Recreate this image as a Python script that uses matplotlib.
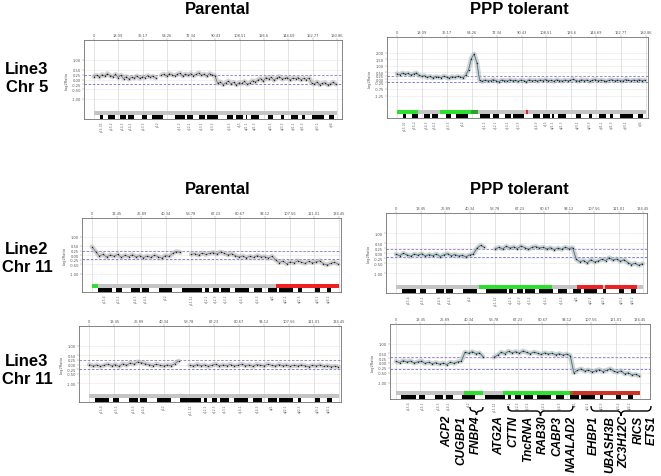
import matplotlib
matplotlib.use("Agg")
import matplotlib.pyplot as plt
from matplotlib.path import Path
from matplotlib.patches import PathPatch
import numpy as np

W, H = 661, 477

chr5_ticks = [0, 18.09, 36.17, 54.26, 72.34, 90.43, 108.51, 126.6, 144.69, 162.77, 180.86]
chr11_ticks = [0, 13.45, 26.89, 40.34, 53.78, 67.23, 80.67, 94.12, 107.56, 121.01, 134.45]

chr5_pos = np.arange(0, 181, 2)
chr11_pos = np.arange(0, 135, 2)

line3_chr5_parental = [
    0.15, 0.22, 0.12, 0.25, 0.18, 0.30,
    0.20, 0.14, 0.26, 0.10, 0.22,
    0.05, 0.15, 0.02, 0.12, 0.08,
    0.18, 0.06, 0.14, 0.10, 0.20,
    0.12, 0.16, 0.08, np.nan,
    0.22, 0.28, 0.18, 0.30, 0.24, 0.20,
    0.26, 0.32, 0.18, 0.28, 0.22,
    0.30, 0.20, 0.26, 0.34, 0.22,
    0.28, 0.18, 0.30, 0.24, 0.20,
    -0.20, -0.12, -0.26, -0.18, -0.08,
    -0.22, -0.14, -0.28, -0.16, -0.20,
    -0.10, -0.24, -0.18, -0.06, -0.14,
    -0.02, 0.05, -0.08, 0.10, 0.02,
    0.12, -0.04, 0.08, 0.15, 0.02,
    0.06, 0.10, -0.02, 0.08, 0.04,
    0.10, -0.02, 0.06, 0.00, 0.08,
    -0.18, -0.24, -0.12, -0.26, -0.20,
    -0.16, -0.28, -0.22, -0.14, -0.24,
]

line3_chr5_tolerant = [
    0.40, 0.32, 0.45, 0.36, 0.42, 0.30,
    0.38, 0.46, 0.28, 0.20, 0.25,
    0.12, 0.20, 0.08, 0.18, 0.15,
    0.10, 0.22, 0.14, 0.06, 0.18,
    0.12, 0.20, 0.16, 0.10,
    0.30, 0.70, 1.55, 1.90, 1.25,
    -0.10, -0.18, -0.08, -0.15, -0.12, -0.05,
    -0.14, -0.20, -0.08, -0.12, -0.16,
    -0.06, -0.14, -0.10, -0.18, -0.08,
    -0.12, -0.20, -0.06, -0.14, -0.10,
    -0.16, -0.08, -0.12, -0.04, -0.14,
    -0.10, -0.18, -0.06, -0.12, -0.16,
    -0.08, -0.14, -0.10, -0.02, -0.12,
    -0.16, -0.06, -0.12, -0.08, -0.18,
    -0.10, -0.04, -0.14, -0.08, -0.12,
    -0.18, -0.10, -0.06, -0.14, -0.08,
    -0.12, -0.16, -0.04, -0.10, -0.14,
    -0.08, -0.12, -0.06, -0.14, -0.10,
]

line2_chr11_parental = [
    0.45, 0.20, -0.05, 0.05, -0.10, 0.02,
    -0.06, 0.04, -0.12, 0.00, -0.08,
    0.03, -0.10, -0.02, -0.14, -0.04,
    -0.12, 0.00, -0.08, -0.16, -0.02,
    -0.06, 0.10, 0.20, 0.15, np.nan,
    np.nan, 0.05,
    0.08, 0.00, 0.12, 0.04, 0.10,
    0.14, 0.06, 0.18, 0.10, 0.02,
    0.08, -0.02, -0.10, -0.04, -0.14,
    -0.06, -0.12, -0.02, -0.10, -0.08,
    -0.16, -0.06, -0.25,
    -0.40, -0.32, -0.46, -0.36, -0.42,
    -0.30, -0.38, -0.44, -0.34, -0.40,
    -0.36, -0.30, -0.46, -0.52, -0.44,
    -0.38, -0.48,
]

line2_chr11_tolerant = [
    -0.05, -0.12, 0.00, -0.08, -0.15, -0.04,
    -0.10, -0.02, -0.14, -0.06, -0.12,
    -0.04, -0.16, -0.08, -0.02, -0.12,
    -0.06, -0.14, -0.10, -0.18, -0.08,
    -0.04, 0.25, 0.40, 0.30, np.nan,
    np.nan, 0.22,
    0.30, 0.22, 0.35, 0.26, 0.32,
    0.24, 0.36, 0.28, 0.20, 0.30,
    0.34, 0.26, 0.30, 0.22, 0.28,
    0.18, 0.26, 0.20, 0.30, 0.24,
    0.28, -0.30, -0.42,
    -0.36, -0.48, -0.32, -0.44, -0.38,
    -0.30, -0.36, -0.22, -0.34, -0.28,
    -0.40, -0.32, -0.46, -0.56, -0.50,
    -0.60, -0.52,
]

line3_chr11_parental = [
    0.00, -0.08, -0.02, -0.10, -0.04, 0.02,
    -0.06, 0.00, -0.10, 0.04, -0.04,
    0.08, 0.02, 0.14, 0.10, 0.04,
    0.00, -0.06, 0.02, -0.04, -0.08,
    -0.02, -0.06, 0.05, 0.18, np.nan,
    np.nan, -0.04,
    -0.08, 0.00, -0.06, -0.02, -0.10,
    -0.04, 0.02, -0.08, -0.02, -0.06,
    0.00, -0.08, -0.04, 0.02, -0.06,
    -0.02, -0.10, 0.00, -0.04, -0.08,
    0.02, -0.04, -0.08,
    0.00, -0.06, -0.02, -0.10, -0.04,
    -0.08, -0.02, -0.06, -0.12, -0.04,
    -0.08, -0.02, -0.10, -0.06, -0.12,
    -0.08, -0.14,
]

line3_chr11_tolerant = [
    0.08, 0.02, 0.12, 0.05, 0.10, 0.00,
    0.06, 0.10, -0.02, 0.04, -0.04,
    0.02, -0.06, 0.00, -0.08, 0.04,
    -0.02, 0.06, 0.10, 0.55, 0.50,
    0.58, 0.48, 0.52, 0.32, np.nan,
    np.nan, 0.30,
    0.40, 0.55, 0.48, 0.60, 0.52,
    0.58, 0.50, 0.62, 0.54, 0.48,
    0.56, 0.50, 0.44, 0.52, 0.46,
    0.50, 0.42, 0.48, 0.40, 0.46,
    0.38, -0.50, -0.38,
    -0.30, -0.42, -0.36, -0.46, -0.40,
    -0.34, -0.44, -0.38, -0.30, -0.42,
    -0.48, -0.40, -0.56, -0.50, -0.62,
    -0.58, -0.66,
]

# ideogram dark bands (Mb)
chr5_bands = [(4.5, 6.9), (10.7, 15.6), (19.4, 23.8), (25.5, 29.8), (35.5, 39.2),
              (43.2, 51.6), (60.3, 67.7), (69.5, 73.9), (78.4, 82.6), (83.9, 92.5),
              (98.8, 103.7), (105.7, 111.1), (112.9, 114.1), (116.6, 123.0),
              (129.7, 133.5), (139.2, 141.4), (146.4, 151.6), (154.6, 157.0),
              (162.0, 171.2), (174.9, 178.9)]
chr5_band_names = ["p15.32", "p15.2", "p14.3", "p14.1", "p13.3", "p12", "q11.2",
                   "q12.1", "q13.1", "q13.3", "q14.3", "q15", "q21.1", "q21.3",
                   "q23.1", "q23.3", "q31.1", "q31.3", "q33.1", "q34"]
chr11_bands = [(3.0, 10.8), (12.9, 16.1), (21.5, 26.0), (27.3, 31.2), (36.6, 43.8),
               (48.8, 60.1), (61.7, 63.5), (65.8, 68.9), (70.3, 75.3), (77.8, 85.5),
               (88.2, 92.7), (96.0, 100.8), (102.0, 109.5), (112.3, 114.1),
               (121.4, 124.1), (127.7, 130.4)]
chr11_band_names = ["p15.4", "p15.1", "p14.3", "p14.1", "p12", "p11.12", "q12.1",
                    "q12.3", "q13.2", "q14.1", "q14.3", "q21", "q22.1", "q22.3",
                    "q23.2", "q24.2"]

# gained (green) / lost (red) segments on the ideogram bar
GREEN = "#2ee02e"
RED = "#ee2222"
DRED = "#cc3322"
segs_p1 = []
segs_p2 = [(0, 15.3, GREEN), (31.2, 54.0, GREEN), (54.0, 58.8, "#22a822"), (93.5, 94.8, RED)]
segs_p3 = [(0, 3.0, GREEN), (100.0, 134.45, RED)]
segs_p4 = [(45.1, 85.0, GREEN), (98.2, 112.7, RED), (113.5, 130.9, RED)]
segs_p5 = []
segs_p6 = [(37.5, 48.1, GREEN), (59.1, 95.9, GREEN), (95.9, 97.7, "#a06020"), (97.7, 134.45, DRED)]

genes = ["ACP2", "CUGBP1", "FNBP4", "ATG2A", "CTTN", "TncRNA", "RAB30",
         "CABP3", "NAALAD2", "EHBP1", "UBASH3B", "ZC3H12C", "RICS", "ETS1"]


fig = plt.figure(figsize=(W / 100, H / 100), dpi=100)


def fx(x):
    return x / W


def fy(y):
    return 1 - y / H


def panel(box, x0px, xendpx, length, ticks, xs, ys, zero_px, ppu, yticks,
          dash, bands, band_names, segs, tolerant):
    left, top, right, bottom = box
    ax = fig.add_axes([fx(left), fy(bottom), (right - left) / W, (bottom - top) / H])
    sc = (xendpx - x0px) / length
    ax.set_xlim((left - x0px) / sc, (right - x0px) / sc)
    ax.set_ylim((zero_px - bottom) / ppu, (zero_px - top) / ppu)

    for t in ticks:
        ax.axvline(t, color="#d8d8d8", lw=0.5, zorder=0)
    for v in yticks:
        if abs(v) != dash:
            ax.axhline(v, color="#d0d0d0", lw=0.4, ls=(0, (1, 1)), zorder=0)
    ax.axhline(dash, color="#9070d8", lw=0.6, ls=(0, (3, 2)), zorder=1)
    ax.axhline(-dash, color="#6a6ae0", lw=0.6, ls=(0, (3, 2)), zorder=1)

    # the probe cloud: a soft band plus the read-off points
    ax.plot(xs, ys, color="#b8b8b8", lw=3.5, alpha=0.6, solid_capstyle="round", zorder=2)
    if tolerant:
        ax.plot(xs, ys, color="#7cc4d6", lw=0.9, zorder=3)
    ax.plot(xs, ys, color="#555555", lw=0.4, zorder=3)
    ax.plot(xs, ys, ".", color="#222222", ms=2.0, mew=0, zorder=4)

    # ideogram: coloured bar and dark bands, in axes-fraction y
    h = bottom - top
    tr = ax.get_xaxis_transform()
    ax.add_patch(plt.Rectangle((0, 4 / h), length, 4 / h, transform=tr,
                               color="#c4c4c4", lw=0, zorder=5))
    for s, e, c in segs:
        ax.add_patch(plt.Rectangle((s, 4 / h), e - s, 4 / h, transform=tr,
                                   color=c, lw=0, zorder=6))
    for s, e in bands:
        ax.add_patch(plt.Rectangle((s, 0.5 / h), e - s, 3.3 / h, transform=tr,
                                   color="black", lw=0, zorder=6))
    for (s, e), name in zip(bands, band_names):
        ax.text((s + e) / 2, -1.5 / h, name, transform=tr, rotation=90,
                ha="center", va="top", fontsize=2.2, color="#666666")

    ax.xaxis.tick_top()
    ax.set_xticks(ticks)
    ax.set_xticklabels(["0"] + ["%g" % t for t in ticks[1:]], fontsize=2.6, color="#555555")
    ax.set_yticks(yticks)
    ax.set_yticklabels(["%.2f" % v for v in yticks], fontsize=2.6, color="#555555")
    ax.tick_params(length=1.2, width=0.3, pad=1, color="#888888")
    ax.set_ylabel("Log2Ratio", fontsize=2.6, color="#555555", labelpad=2)
    for sp in ax.spines.values():
        sp.set_color("#707070")
        sp.set_linewidth(0.6)
    return ax


yt = [1.0, 0.5, 0.25, 0.0, -0.25, -0.5, -1.0]
panel((84, 41, 342, 120), 94, 337, 180.86, chr5_ticks, chr5_pos, line3_chr5_parental,
      80.5, 19.5, yt, 0.25, chr5_bands, chr5_band_names, segs_p1, False)
panel((387, 38, 648, 119), 397, 646, 180.86, chr5_ticks, chr5_pos, line3_chr5_tolerant,
      80.0, 13.2, [2.0, 1.5, 1.0, 0.5, 0.25, 0.0, -0.25, -0.75, -1.25], 0.25,
      chr5_bands, chr5_band_names, segs_p2, True)
panel((82, 219, 341, 293), 92, 338.9, 134.45, chr11_ticks, chr11_pos, line2_chr11_parental,
      256.2, 18.5, yt, 0.22, chr11_bands, chr11_band_names, segs_p3, False)
panel((386, 214, 647, 294), 396, 643.3, 134.45, chr11_ticks, chr11_pos, line2_chr11_tolerant,
      254.3, 20.0, yt, 0.2, chr11_bands, chr11_band_names, segs_p4, True)
panel((79, 327, 341, 403), 89.3, 339.3, 134.45, chr11_ticks, chr11_pos, line3_chr11_parental,
      365.5, 18.8, yt, 0.25, chr11_bands, chr11_band_names, segs_p5, False)
panel((390, 325, 650, 400), 396, 640, 134.45, chr11_ticks, chr11_pos, line3_chr11_tolerant,
      364.0, 19.5, yt, 0.3, chr11_bands, chr11_band_names, segs_p6, True)

# titles and row labels
tfont = dict(fontsize=12, fontweight="bold", family="Liberation Sans", ha="center", va="center")
for y in (9, 190):
    fig.text(fx(217.5), fy(y), "Parental", **tfont)
    fig.text(fx(519), fy(y), "PPP tolerant", **tfont)
for y, lab in ((78.5, "Line3\nChr 5"), (258.5, "Line2\nChr 11"), (371, "Line3\nChr 11")):
    fig.text(fx(27), fy(y), lab, linespacing=1.25, **tfont)

# gene labels under the last tolerant panel
gene_x = [447, 461.5, 476, 499, 513.5, 528, 542.5, 557, 571.5, 594, 610, 624.5, 639, 652]
for gx, g in zip(gene_x, genes):
    fig.text(fx(gx), fy(416), g, rotation=90, ha="center", va="top", fontsize=8.5,
             fontweight="bold", style="italic", family="Liberation Sans")


def underbrace(x0, x1, ytop, ybot):
    ym = (ytop + ybot) / 2
    xm = (x0 + x1) / 2
    r = min(4, (x1 - x0) / 4)
    pts = [(x0, ytop), (x0, ym), (x0 + r, ym), (xm - r, ym), (xm, ym), (xm, ybot),
           (xm, ym), (xm + r, ym), (x1 - r, ym), (x1, ym), (x1, ytop)]
    codes = [Path.MOVETO, Path.CURVE3, Path.CURVE3, Path.LINETO, Path.CURVE3, Path.CURVE3,
             Path.CURVE3, Path.CURVE3, Path.LINETO, Path.CURVE3, Path.CURVE3]
    path = Path([(fx(a), fy(b)) for a, b in pts], codes)
    fig.add_artist(PathPatch(path, fill=False, lw=1.0, color="black",
                             transform=fig.transFigure))


underbrace(470, 483, 408, 416)
underbrace(508, 573, 407, 417)
underbrace(591, 651, 407, 417)

fig.savefig("out.png", dpi=100)
